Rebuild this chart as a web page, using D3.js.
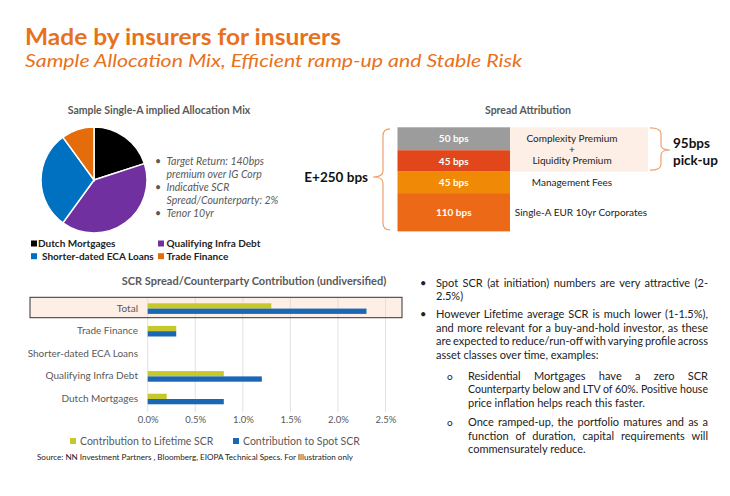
<!DOCTYPE html>
<html>
<head>
<meta charset="utf-8">
<script src="https://cdn.jsdelivr.net/npm/d3@7"></script>
<style>
body { margin: 0; background: #fff; }
text { font-family: Lato, "Open Sans", sans-serif; }
</style>
</head>
<body>
<svg id="canvas" width="730" height="496"></svg>
<script>
// allocation mix (pie)
const mixNames = ["Dutch Mortgages", "Qualifying Infra Debt", "Shorter-dated ECA Loans", "Trade Finance"];
const mixShares = [20, 40, 30, 10];
const mixColors = ["#000000", "#7030a0", "#0070c0", "#e46c0a"];
const mixNotes = ["Target Return: 140bps", "premium over IG Corp", "Indicative SCR", "Spread/Counterparty: 2%", "Tenor 10yr"];

// spread attribution (top to bottom)
const spreadBps = [50, 45, 45, 110];
const spreadColors = ["#9c9c9c", "#e2461b", "#f08a06", "#ec6a17"];
const spreadNotes = [null, null, "Management Fees", "Single-A EUR 10yr Corporates"];
const premiumNote = ["Complexity Premium", "+", "Liquidity Premium"];

// SCR contribution (bars)
const scrCategories = ["Total", "Trade Finance", "Shorter-dated ECA Loans", "Qualifying Infra Debt", "Dutch Mortgages"];
const lifetimeScr = [1.3, 0.3, 0, 0.8, 0.2];
const spotScr = [2.3, 0.3, 0, 1.2, 0.8];
const scrTicks = [0, 0.5, 1, 1.5, 2, 2.5];
const scrSeries = ["Contribution to Lifetime SCR", "Contribution to Spot SCR"];
const scrColors = ["#c6c82c", "#1a67b5"];

const svg = d3.select("#canvas");
const orange = "#e8711c";
const grey = "#595959";

// heading
svg.append("text")
    .attr("x", 25).attr("y", 44.5)
    .attr("font-size", 23).attr("font-weight", "bold")
    .attr("fill", orange)
    .attr("textLength", 316).attr("lengthAdjust", "spacingAndGlyphs")
    .text("Made by insurers for insurers");
svg.append("text")
    .attr("x", 25).attr("y", 66.5)
    .attr("font-size", 17).attr("font-style", "italic")
    .attr("fill", orange)
    .attr("textLength", 497).attr("lengthAdjust", "spacingAndGlyphs")
    .text("Sample Allocation Mix, Efficient ramp-up and Stable Risk");

drawPie();
drawSpread();
drawBars();
drawNotes();

function drawPie() {
    svg.append("text")
        .attr("x", 159).attr("y", 113.5)
        .attr("text-anchor", "middle")
        .attr("font-size", 10.5).attr("font-weight", "bold")
        .attr("fill", grey)
        .text("Sample Single-A implied Allocation Mix");

    const pie = d3.pie().sort(null).value(d => d);
    const arc = d3.arc().innerRadius(0).outerRadius(53);

    svg.append("g")
        .attr("transform", "translate(94,180)")
        .selectAll("path")
        .data(pie(mixShares))
        .join("path")
        .attr("d", arc)
        .attr("fill", (d, i) => mixColors[i])
        .attr("stroke", "#fff")
        .attr("stroke-width", 1.5);

    const notes = svg.append("g")
        .attr("font-size", 10.5).attr("font-style", "italic")
        .attr("fill", grey);
    mixNotes.forEach((t, i) => {
        const y = 164.5 + i * 13.1;
        if (i % 2 === 0) {
            notes.append("text").attr("x", 155).attr("y", y).attr("font-style", "normal").text("•");
        }
        notes.append("text").attr("x", 166.5).attr("y", y).text(t);
    });

    const legend = svg.append("g")
        .attr("font-size", 10).attr("font-weight", "bold")
        .attr("fill", "#222");
    const lx = [31, 158];
    const ltx = [38, 166.5];
    mixNames.forEach((name, i) => {
        const col = i % 2;
        const y = 247 + Math.floor(i / 2) * 12.7;
        legend.append("rect")
            .attr("x", lx[col]).attr("y", y - 6.5)
            .attr("width", 6).attr("height", 6)
            .attr("fill", mixColors[i]);
        legend.append("text")
            .attr("x", ltx[col] + (i === 2 ? 4 : 0)).attr("y", y)
            .text(name);
    });
}

function drawSpread() {
    svg.append("text")
        .attr("x", 528).attr("y", 113.5)
        .attr("text-anchor", "middle")
        .attr("font-size", 10.5).attr("font-weight", "bold")
        .attr("fill", grey)
        .text("Spread Attribution");

    const top = 127.3;
    const left = 397.5, right = 510;
    const h = d3.scalePow().exponent(0.65).domain([0, 110]).range([0, 38.3]);
    let acc = top;
    const rows = spreadBps.map(v => {
        const r = { v, y0: acc, y1: acc + h(v) };
        acc = r.y1;
        return r;
    });

    // premium highlight
    svg.append("rect")
        .attr("x", right).attr("y", rows[0].y0)
        .attr("width", 138).attr("height", rows[1].y1 - rows[0].y0)
        .attr("fill", "#fdefe6");

    svg.append("g").selectAll("rect")
        .data(rows)
        .join("rect")
        .attr("x", left).attr("y", d => d.y0)
        .attr("width", right - left).attr("height", d => d.y1 - d.y0)
        .attr("fill", (d, i) => spreadColors[i]);

    svg.append("g").selectAll("text")
        .data(rows)
        .join("text")
        .attr("x", (left + right) / 2)
        .attr("y", d => (d.y0 + d.y1) / 2 + 3.6)
        .attr("text-anchor", "middle")
        .attr("font-size", 10).attr("font-weight", "bold")
        .attr("fill", "#fff")
        .text(d => d.v + " bps");

    const midPrem = (rows[0].y0 + rows[1].y1) / 2;
    premiumNote.forEach((t, i) => {
        svg.append("text")
            .attr("x", 572).attr("y", midPrem + (i - 1) * 11 + 3.5)
            .attr("text-anchor", "middle")
            .attr("font-size", 10).attr("fill", "#222")
            .text(t);
    });
    spreadNotes.forEach((t, i) => {
        if (!t) return;
        svg.append("text")
            .attr("x", i === 3 ? 581 : 572)
            .attr("y", (rows[i].y0 + rows[i].y1) / 2 + 3.5)
            .attr("text-anchor", "middle")
            .attr("font-size", 10).attr("fill", "#222")
            .text(t);
    });

    // braces
    const bTop = top + 1.5, bBot = acc - 1.5, bMid = 177;
    svg.append("path")
        .attr("d", `M390,${bTop} Q383,${bTop} 383,${bTop + 7} L383,${bMid - 6} Q383,${bMid} 373,${bMid} Q383,${bMid} 383,${bMid + 6} L383,${bBot - 7} Q383,${bBot} 390,${bBot}`)
        .attr("fill", "none").attr("stroke", "#f0a06a").attr("stroke-width", 1.2);
    svg.append("text")
        .attr("x", 368).attr("y", bMid + 4.5)
        .attr("text-anchor", "end")
        .attr("font-size", 13.5).attr("font-weight", "bold").attr("fill", "#111")
        .text("E+250 bps");

    const rTop = top + 0.5, rBot = rows[1].y1 - 1.5, rMid = 150;
    svg.append("path")
        .attr("d", `M650,${rTop} Q661,${rTop} 661,${rTop + 6} L661,${rMid - 5} Q661,${rMid} 670,${rMid} Q661,${rMid} 661,${rMid + 5} L661,${rBot - 6} Q661,${rBot} 650,${rBot}`)
        .attr("fill", "none").attr("stroke", "#f0a06a").attr("stroke-width", 1.2);
    svg.append("text")
        .attr("x", 673).attr("y", 148)
        .attr("font-size", 13.5).attr("font-weight", "bold").attr("fill", "#111")
        .text("95bps");
    svg.append("text")
        .attr("x", 673).attr("y", 165)
        .attr("font-size", 13.5).attr("font-weight", "bold").attr("fill", "#111")
        .text("pick-up");
}

function drawBars() {
    const x = d3.scaleLinear().domain([0, 2.5]).range([147.7, 385.5]);
    const y = d3.scaleBand().domain(scrCategories).range([297, 410]);
    const inner = d3.scaleBand().domain([0, 1]).range([-5, 5.6]);

    svg.append("text")
        .attr("x", 254).attr("y", 285)
        .attr("text-anchor", "middle")
        .attr("font-size", 11).attr("font-weight", "bold")
        .attr("fill", grey)
        .text("SCR Spread/Counterparty Contribution (undiversified)");

    // highlight box behind Total
    svg.append("rect")
        .attr("x", 30).attr("y", y("Total") + 0.3)
        .attr("width", 372).attr("height", 20.4)
        .attr("fill", "#fdefe6");

    svg.append("g").selectAll("line")
        .data(scrTicks)
        .join("line")
        .attr("x1", d => x(d)).attr("x2", d => x(d))
        .attr("y1", 297).attr("y2", 412)
        .attr("stroke", "#d9d9d9").attr("stroke-width", 0.8);

    const seriesVals = [lifetimeScr, spotScr];
    seriesVals.forEach((vals, s) => {
        svg.append("g").selectAll("rect")
            .data(vals)
            .join("rect")
            .attr("x", x(0))
            .attr("y", (d, i) => y(scrCategories[i]) + y.bandwidth() / 2 + inner(s))
            .attr("width", d => x(d) - x(0))
            .attr("height", inner.bandwidth())
            .attr("fill", scrColors[s]);
    });

    svg.append("rect")
        .attr("x", 30).attr("y", y("Total") + 0.3)
        .attr("width", 372).attr("height", 20.4)
        .attr("fill", "none").attr("stroke", "#333").attr("stroke-width", 1);

    const yAxis = svg.append("g")
        .attr("transform", "translate(138,0)")
        .call(d3.axisLeft(y).tickSize(0).tickPadding(0));
    yAxis.select(".domain").remove();
    yAxis.selectAll("text")
        .attr("font-family", "Lato, 'Open Sans', sans-serif")
        .attr("font-size", 10).attr("fill", grey);

    const xAxis = svg.append("g")
        .attr("transform", "translate(0,416)")
        .call(d3.axisBottom(x).tickValues(scrTicks).tickSize(0).tickPadding(0)
            .tickFormat(d => d3.format(".1f")(d) + "%"));
    xAxis.select(".domain").remove();
    xAxis.selectAll("text")
        .attr("font-family", "Lato, 'Open Sans', sans-serif")
        .attr("font-size", 9.5).attr("fill", grey);

    const lx = [70, 233];
    scrSeries.forEach((name, i) => {
        svg.append("rect")
            .attr("x", lx[i]).attr("y", 438).attr("width", 6).attr("height", 6)
            .attr("fill", scrColors[i]);
        svg.append("text")
            .attr("x", lx[i] + 10).attr("y", 445)
            .attr("font-size", 10.5).attr("fill", grey)
            .text(name);
    });

    svg.append("text")
        .attr("x", 37).attr("y", 460)
        .attr("font-size", 8).attr("fill", "#222")
        .attr("textLength", 316).attr("lengthAdjust", "spacingAndGlyphs")
        .text("Source: NN Investment Partners , Bloomberg, EIOPA Technical Specs. For Illustration only");
}

function drawNotes() {
    const right = 708;
    const paras = [
        { bullet: "•", bx: 420, x: 436, y: 286.5, lines: [
            "Spot SCR (at initiation) numbers are very attractive (2-",
            "2.5%)"] },
        { bullet: "•", bx: 420, x: 436, y: 318, lines: [
            "However Lifetime average SCR is much lower (1-1.5%),",
            "and more relevant for a buy-and-hold investor, as these",
            "are expected to reduce/run-off with varying profile across",
            "asset classes over time, examples:"] },
        { bullet: "o", bx: 447, x: 468, y: 379.5, lines: [
            "Residential Mortgages have a zero SCR",
            "Counterparty below and LTV of 60%. Positive house",
            "price inflation helps reach this faster."] },
        { bullet: "o", bx: 447, x: 468, y: 426, lines: [
            "Once ramped-up, the portfolio matures and as a",
            "function of duration, capital requirements will",
            "commensurately reduce."] }
    ];
    const g = svg.append("g").attr("font-size", 11).attr("fill", "#222");
    paras.forEach(p => {
        g.append("text").attr("x", p.bx).attr("y", p.y)
            .attr("font-size", p.bullet === "o" ? 10 : 11)
            .text(p.bullet);
        p.lines.forEach((line, li) => {
            const y = p.y + li * 13.6;
            const t = g.append("text").attr("x", p.x).attr("y", y).text(line);
            if (li === p.lines.length - 1) return;
            // justify across the column
            const target = right - p.x;
            const natural = t.node().getComputedTextLength();
            const spaces = line.split(" ").length - 1;
            const ws = (target - natural) / spaces;
            if (ws >= -0.8) {
                t.attr("word-spacing", ws);
            } else {
                t.attr("textLength", target).attr("lengthAdjust", "spacingAndGlyphs");
            }
        });
    });
}
</script>
</body>
</html>
